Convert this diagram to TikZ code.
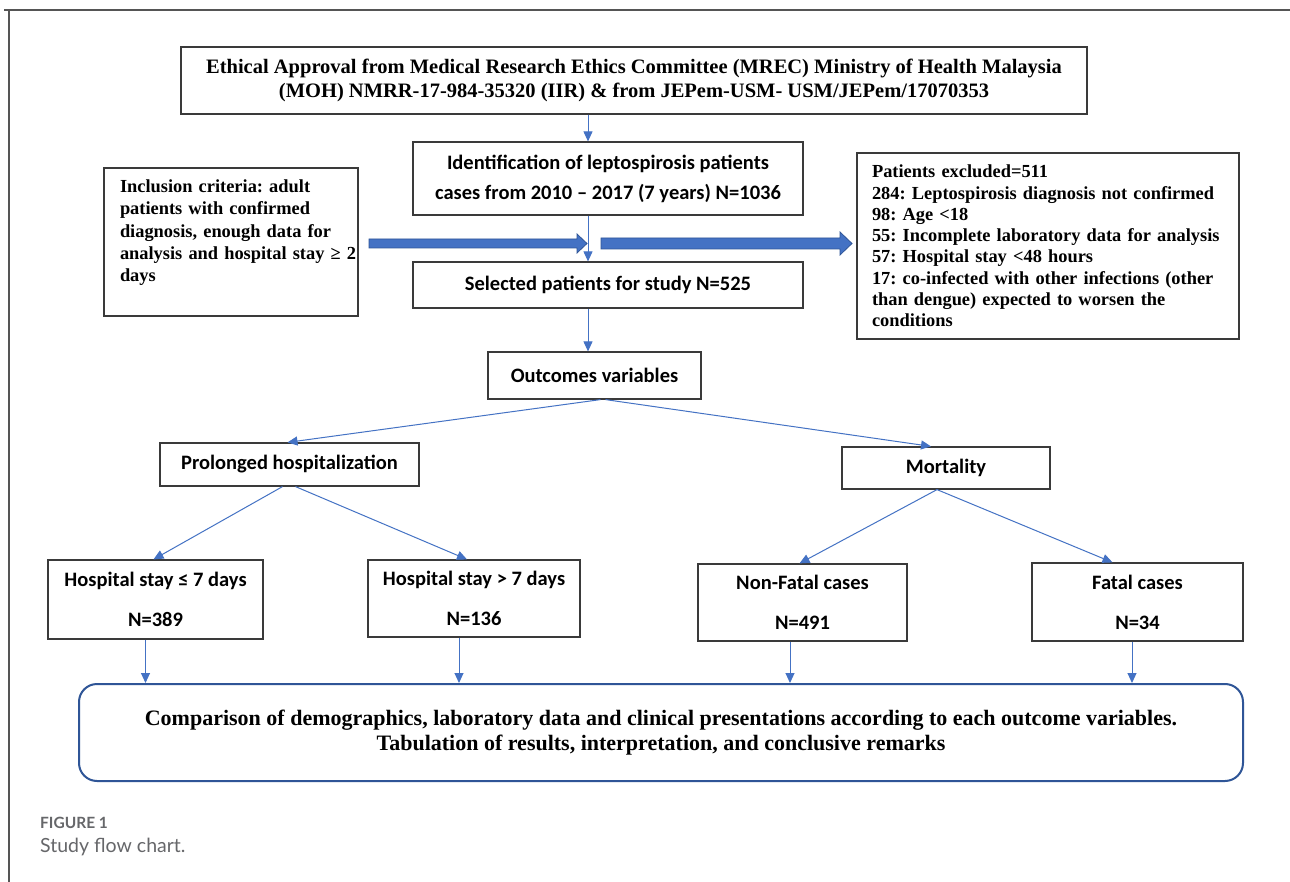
\documentclass[tikz,border=0pt]{standalone}
\usepackage{fontspec}
\setmainfont{Liberation Serif}
\newfontfamily\calib{Carlito}
\newfontfamily\capfont{Lato}
\usetikzlibrary{arrows.meta}
\definecolor{arrblue}{HTML}{4472C4}
\definecolor{darkblue}{HTML}{2F5597}
\definecolor{boxline}{HTML}{3A3A3A}
\definecolor{capgray}{HTML}{66676A}
\definecolor{framegray}{HTML}{555555}
\hfuzz=50pt
\frenchspacing
\begin{document}
\frenchspacing
\begin{tikzpicture}[x=1pt,y=-1pt,
  box/.style={draw=boxline, line width=1.2pt, inner sep=0pt, fill=white},
  tnr/.style={font=\bfseries\fontsize{20.5}{24.5}\selectfont, align=center},
  tnrs/.style={font=\bfseries\fontsize{18.4}{21.3}\selectfont},
  cal/.style={font=\calib\bfseries\fontsize{20.5}{30}\selectfont, align=center},
  caltwo/.style={font=\calib\bfseries\fontsize{20.5}{40}\selectfont, align=center},
  arr/.style={draw=arrblue, line width=1pt, -{Triangle[length=10pt,width=9pt]}},
  blockarr/.style={fill=arrblue, draw=darkblue, line width=0.8pt}]
\fill[white] (0,0) rectangle (1290,882);
\useasboundingbox (0,0) rectangle (1290,882);
% page frame
\draw[framegray, line width=1.5pt] (4,10) -- (1290,10);
\draw[framegray, line width=1.5pt] (9,10) -- (9,882);

% nodes
\node[box, tnr, minimum width=906pt, minimum height=67pt] (eth) at (634,80.5)
  {\rule{0pt}{14pt}Ethical Approval from Medical Research Ethics Committee (MREC) Ministry of Health Malaysia\\
   (MOH) NMRR-17-984-35320 (IIR) \& from JEPem-USM- USM/JEPem/17070353};
\node[box, cal, minimum width=390pt, minimum height=73pt] (ident) at (608,178.5)
  {Identification of leptospirosis patients\\cases from 2010 – 2017 (7 years) N=1036};
\node[box, font=\bfseries\fontsize{18.4}{22.4}\selectfont, text width=250pt, align=left,
      minimum width=254pt, minimum height=148pt] (incl) at (231,242)
  {\leftskip=14pt Inclusion criteria: adult\\patients with confirmed\\diagnosis, enough data for\\\mbox{analysis and hospital stay ≥ 2}\\days\\[0pt]\mbox{}};
\node[box, tnrs, text width=352pt, align=left,
      minimum width=382pt, minimum height=186pt] (excl) at (1048,246)
  {Patients excluded=511\\284: Leptospirosis diagnosis not confirmed\\98: Age <18\\55: Incomplete laboratory data for analysis\\57: Hospital stay <48 hours\\17: co-infected with other infections (other\\than dengue) expected to worsen the\\conditions};
\node[box, cal, minimum width=390pt, minimum height=46pt] (sel) at (608,285)
  {Selected patients for study N=525};
\node[box, cal, minimum width=213pt, minimum height=47pt] (outc) at (594.5,375.5)
  {Outcomes variables};
\node[box, cal, minimum width=259pt, minimum height=43pt] (prol) at (289.5,464.5)
  {Prolonged hospitalization};
\node[box, cal, minimum width=208pt, minimum height=42pt] (mort) at (946,468)
  {Mortality};
\node[box, caltwo, minimum width=215pt, minimum height=79pt] (h1) at (155.5,599.5)
  {Hospital stay ≤ 7 days\\N=389};
\node[box, caltwo, minimum width=212pt, minimum height=77pt] (h2) at (474,598.5)
  {Hospital stay > 7 days\\N=136};
\node[box, caltwo, minimum width=209pt, minimum height=77pt] (nf) at (802.5,602.5)
  {Non-Fatal cases\\N=491};
\node[box, caltwo, minimum width=211pt, minimum height=78pt] (fat) at (1137.5,602)
  {Fatal cases\\N=34};
\node[draw=darkblue, line width=2pt, rounded corners=18pt, inner sep=0pt,
      minimum width=1164pt, minimum height=97pt,
      font=\bfseries\fontsize{22}{25}\selectfont, align=center] (comp) at (661,732.5)
  {Comparison of demographics, laboratory data and clinical presentations according to each outcome variables.\\
   Tabulation of results, interpretation, and conclusive remarks};

% caption
\node[anchor=west, inner sep=0pt, text=capgray, font=\capfont\bfseries\fontsize{15.5}{17}\selectfont] (figlab) at (40,823) {FIGURE 1};
\node[anchor=west, inner sep=0pt, text=capgray, font=\capfont\fontsize{19.5}{22}\selectfont] (figcap) at (40,847) {Study flow chart.};

% block arrows
\filldraw[blockarr] (369,239) -- (577,239) -- (577,234) -- (587,243.5) -- (577,253) -- (577,248) -- (369,248) -- cycle;
\filldraw[blockarr] (601,238) -- (840,238) -- (840,232) -- (852,243.5) -- (840,255) -- (840,249) -- (601,249) -- cycle;

% thin connectors
\coordinate (cx) at (588,0);
\draw[arr] (eth.south -| cx) -- (ident.north -| cx);
\draw[arr] (ident.south -| cx) -- (sel.north -| cx);
\draw[arr] (sel.south -| cx) -- (outc.north -| cx);

\draw[arr] ([xshift=6pt]outc.south) -- ([xshift=-2pt]prol.north);
\draw[arr] ([xshift=11pt]outc.south) -- ([xshift=-15pt]mort.north);
\draw[arr] ([xshift=-7pt]prol.south) -- ([xshift=-2pt]h1.north);
\draw[arr] ([xshift=6pt]prol.south) -- ([xshift=-7pt]h2.north);
\draw[arr] ([xshift=-9pt]mort.south) -- ([xshift=-3pt]nf.north);
\draw[arr] ([xshift=-9pt]mort.south) -- ([xshift=-25pt]fat.north);

\coordinate (d1) at ([xshift=-10pt]h1.south);
\coordinate (d2) at ([xshift=-15pt]h2.south);
\coordinate (d3) at ([xshift=-12.5pt]nf.south);
\coordinate (d4) at ([xshift=-5.5pt]fat.south);
\draw[arr] (d1) -- (d1 |- comp.north);
\draw[arr] (d2) -- (d2 |- comp.north);
\draw[arr] (d3) -- (d3 |- comp.north);
\draw[arr] (d4) -- (d4 |- comp.north);
\end{tikzpicture}
\end{document}
